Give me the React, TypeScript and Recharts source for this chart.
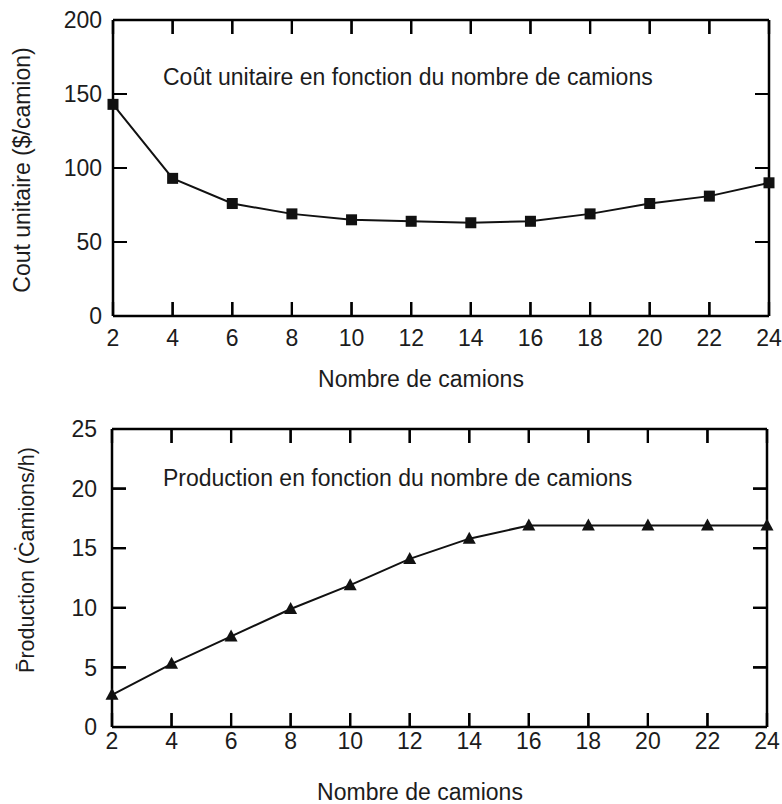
import React from 'react';
import { LineChart, Line, XAxis, YAxis, Label } from 'recharts';

const trucks = [2, 4, 6, 8, 10, 12, 14, 16, 18, 20, 22, 24];
const unitCost = [143, 93, 76, 69, 65, 64, 63, 64, 69, 76, 81, 90];
const production = [2.7, 5.3, 7.6, 9.9, 11.9, 14.1, 15.8, 16.9, 16.9, 16.9, 16.9, 16.9];

const xTicks = [2, 4, 6, 8, 10, 12, 14, 16, 18, 20, 22, 24];
const costTicks = [0, 50, 100, 150, 200];
const prodTicks = [0, 5, 10, 15, 20, 25];

const xTitle = 'Nombre de camions';
const costTitle = 'Cout unitaire ($/camion)';
const prodTitle = 'P\u0304roduction (C\u0307amions/h)';
const costNote = 'Coût unitaire en fonction du nombre de camions';
const prodNote = 'Production en fonction du nombre de camions';

const costData = trucks.map((x, i) => ({ x, v: unitCost[i] }));
const prodData = trucks.map((x, i) => ({ x, v: production[i] }));

const FONT = '"Liberation Sans", Arial, Helvetica, sans-serif';
const INK = '#1c1c1c';
const FS = 23;
const TICK_LEN = 14;
const TICK_W = 2.2;

const textProps = { fontSize: FS, fill: INK, fontFamily: FONT };
const frameLine = { stroke: '#000', strokeWidth: 2.5 };

type Geo = { left: number; right: number; top: number; bottom: number };

// inward tick marks on the four sides of a frame, at the tick values of the axes
function FrameTicks(props: { geo: Geo; yDomain: [number, number]; yTicks: number[]; tag: string }) {
  const { geo, yDomain, yTicks, tag } = props;
  const x0 = xTicks[0];
  const x1 = xTicks[xTicks.length - 1];
  const sx = (t: number) => geo.left + ((t - x0) / (x1 - x0)) * (geo.right - geo.left);
  const sy = (v: number) => geo.bottom - ((v - yDomain[0]) / (yDomain[1] - yDomain[0])) * (geo.bottom - geo.top);
  const parts: string[] = [];
  xTicks.forEach((t) => {
    const x = sx(t);
    parts.push(`M${x},${geo.bottom}L${x},${geo.bottom - TICK_LEN}`);
    parts.push(`M${x},${geo.top}L${x},${geo.top + TICK_LEN}`);
  });
  yTicks.forEach((v) => {
    const y = sy(v);
    parts.push(`M${geo.left},${y}L${geo.left + TICK_LEN},${y}`);
    parts.push(`M${geo.right},${y}L${geo.right - TICK_LEN},${y}`);
  });
  return (
    <path
      key={tag}
      className="frame-ticks"
      d={parts.join(' ')}
      fill="none"
      stroke="#000"
      strokeWidth={TICK_W}
      strokeOpacity={1}
    />
  );
}

function Panel(props: {
  data: { x: number; v: number }[];
  width: number;
  height: number;
  geo: Geo;
  yDomain: [number, number];
  yTicks: number[];
  yLabelGap: number;
  xLabelGap: number;
  yTitle: string;
  yTitleX: number;
  yTitleY: number;
  yTitleSize: number;
  note: string;
  noteX: number;
  noteY: number;
  xTitleX: number;
  xTitleY: number;
  marker: 'square' | 'triangle';
}) {
  const p = props;
  const geo = p.geo;
  const margin = { top: geo.top - 1, right: p.width - geo.right - 1, bottom: 0, left: 0 };
  const xDom = [xTicks[0], xTicks[xTicks.length - 1]];

  const dot = (dp: any) => {
    const { cx, cy, index } = dp;
    if (cx == null || cy == null) return <g key={index} />;
    const mark =
      p.marker === 'square' ? (
        <rect x={cx - 5.5} y={cy - 5.5} width={11} height={11} fill="#111" />
      ) : (
        <path d={`M${cx},${cy - 7} L${cx + 6.5},${cy + 5} L${cx - 6.5},${cy + 5} Z`} fill="#111" />
      );
    return (
      <g key={index}>
        {index === 0 ? <FrameTicks geo={geo} yDomain={p.yDomain} yTicks={p.yTicks} tag="dt" /> : null}
        {mark}
      </g>
    );
  };

  const bottomLabel = (tp: any) => (
    <text
      key={`b${tp.index}`}
      x={Number(tp.x)}
      y={geo.bottom + p.xLabelGap}
      dy="0.71em"
      textAnchor="middle"
      {...textProps}
    >
      {tp.payload.value}
    </text>
  );
  const leftLabel = (tp: any) => (
    <text
      key={`l${tp.index}`}
      x={geo.left - p.yLabelGap}
      y={Number(tp.y)}
      dy="0.355em"
      textAnchor="end"
      {...textProps}
    >
      {tp.payload.value}
    </text>
  );

  return (
    <LineChart width={p.width} height={p.height} data={p.data} margin={margin}>
      <XAxis
        xAxisId="bottom"
        dataKey="x"
        type="number"
        domain={xDom}
        ticks={xTicks}
        orientation="bottom"
        height={p.height - geo.bottom}
        axisLine={frameLine}
        tickLine={false}
        tickSize={0}
        tickMargin={0}
        tick={bottomLabel}
        interval={0}
      >
        <Label
          content={() => (
            <text x={p.xTitleX} y={p.xTitleY} textAnchor="middle" dominantBaseline="central" {...textProps}>
              {xTitle}
            </text>
          )}
        />
      </XAxis>
      <XAxis
        xAxisId="top"
        dataKey="x"
        type="number"
        domain={xDom}
        ticks={xTicks}
        orientation="top"
        height={1}
        axisLine={frameLine}
        tickLine={false}
        tick={false}
        interval={0}
      >
        <Label
          content={() => (
            <g>
              <FrameTicks geo={geo} yDomain={p.yDomain} yTicks={p.yTicks} tag="lt" />
              <text x={p.noteX} y={p.noteY} textAnchor="start" dominantBaseline="central" {...textProps}>
                {p.note}
              </text>
            </g>
          )}
        />
      </XAxis>
      <YAxis
        yAxisId="left"
        dataKey="v"
        type="number"
        domain={p.yDomain}
        ticks={p.yTicks}
        orientation="left"
        width={geo.left}
        axisLine={frameLine}
        tickLine={false}
        tickSize={0}
        tickMargin={0}
        tick={leftLabel}
        interval={0}
      >
        <Label
          content={() => (
            <text
              x={p.yTitleX}
              y={p.yTitleY}
              textAnchor="middle"
              dominantBaseline="central"
              transform={`rotate(-90, ${p.yTitleX}, ${p.yTitleY})`}
              {...textProps}
              fontSize={p.yTitleSize}
            >
              {p.yTitle}
            </text>
          )}
        />
      </YAxis>
      <YAxis
        yAxisId="right"
        dataKey="v"
        type="number"
        domain={p.yDomain}
        ticks={p.yTicks}
        orientation="right"
        width={1}
        axisLine={frameLine}
        tickLine={false}
        tick={false}
        interval={0}
      />
      <Line
        xAxisId="bottom"
        yAxisId="left"
        type="linear"
        dataKey="v"
        stroke="#111"
        strokeWidth={2}
        dot={dot}
        activeDot={false}
        isAnimationActive={false}
      />
    </LineChart>
  );
}

export default function App() {
  return (
    <div
      style={{
        position: 'absolute',
        left: 0,
        top: 0,
        width: 782,
        height: 804,
        background: '#ffffff',
        overflow: 'hidden',
      }}
    >
      <div style={{ position: 'absolute', left: 0, top: 0 }}>
        <Panel
          data={costData}
          width={782}
          height={395}
          geo={{ left: 113, right: 769, top: 20, bottom: 316 }}
          yDomain={[0, 200]}
          yTicks={costTicks}
          yLabelGap={11}
          xLabelGap={14}
          yTitle={costTitle}
          yTitleX={22}
          yTitleY={170}
          yTitleSize={23}
          note={costNote}
          noteX={163}
          noteY={77}
          xTitleX={421}
          xTitleY={379}
          marker="square"
        />
      </div>
      <div style={{ position: 'absolute', left: 0, top: 390 }}>
        <Panel
          data={prodData}
          width={782}
          height={414}
          geo={{ left: 112, right: 767, top: 39, bottom: 337 }}
          yDomain={[0, 25]}
          yTicks={prodTicks}
          yLabelGap={15}
          xLabelGap={6}
          yTitle={prodTitle}
          yTitleX={27}
          yTitleY={170}
          yTitleSize={21.5}
          note={prodNote}
          noteX={163}
          noteY={88}
          xTitleX={420}
          xTitleY={402}
          marker="triangle"
        />
      </div>
    </div>
  );
}
